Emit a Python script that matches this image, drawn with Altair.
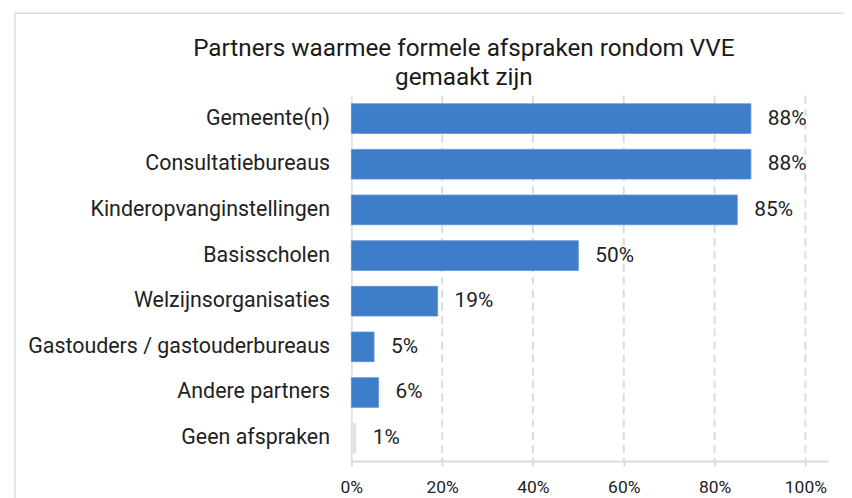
import altair as alt
import pandas as pd

categories = [
    "Gemeente(n)\u00a0",
    "Consultatiebureaus",
    "Kinderopvanginstellingen",
    "Basisscholen\u00a0",
    "Welzijnsorganisaties",
    "Gastouders / gastouderbureaus",
    "Andere partners",
    "Geen afspraken",
]
values = [0.88, 0.88, 0.85, 0.50, 0.19, 0.05, 0.06, 0.01]
tick_values = [0, 0.2, 0.4, 0.6, 0.8, 1.0]
title_lines = ["Partners waarmee formele afspraken rondom VVE", "gemaakt zijn"]

df = pd.DataFrame({"partner": categories, "aandeel": values})

FONT = "Roboto"
GRID = "#dcdcdc"
XDOM = [0, 1.05]

x_enc = alt.X(
    "aandeel:Q",
    scale=alt.Scale(domain=XDOM, nice=False, zero=True),
    axis=alt.Axis(
        values=tick_values,
        format=".0%",
        title=None,
        grid=False,
        domainColor=GRID,
        domainWidth=2,
        tickColor=GRID,
        tickWidth=2,
        tickSize=5,
        labelPadding=13,
        labelFlush=False,
        labelFont=FONT,
        labelFontSize=17.5,
        labelColor="#222222",
    ),
)
y_enc = alt.Y(
    "partner:N",
    sort=categories,
    scale=alt.Scale(paddingInner=0.35, paddingOuter=0.175),
    axis=alt.Axis(
        title=None,
        ticks=False,
        domainColor="#e4e4e4",
        domainWidth=2,
        labelPadding=22,
        labelFont=FONT,
        labelFontSize=21.5,
        labelColor="#222222",
        labelLimit=400,
    ),
)

base = alt.Chart(df)

grid = alt.Chart(pd.DataFrame({"t": tick_values[1:]})).mark_rule(
    color=GRID, strokeWidth=2, strokeDash=[8, 5]
).encode(x=alt.X("t:Q", scale=alt.Scale(domain=XDOM, nice=False)))

bars = base.mark_bar(strokeWidth=0.8).encode(
    x=x_enc,
    y=y_enc,
    color=alt.condition(
        alt.datum.partner == "Geen afspraken",
        alt.value("#e2e2e2"),
        alt.value("#3e7dc8"),
    ),
    stroke=alt.condition(
        alt.datum.partner == "Geen afspraken",
        alt.value("#e2e2e2"),
        alt.value("#5f93d4"),
    ),
)

labels = base.mark_text(
    align="left", baseline="middle", dx=17, font=FONT, fontSize=21, color="#222222"
).encode(
    x="aandeel:Q",
    y=alt.Y("partner:N", sort=categories),
    text=alt.Text("aandeel:Q", format=".0%"),
)

frame = alt.Chart(alt.Data(values=[{"f": 1}])).mark_rect(
    filled=False, stroke="#dedede", strokeWidth=1.5
).encode(
    x=alt.value(-338), x2=alt.value(540), y=alt.value(-83), y2=alt.value(460)
)

title = alt.Chart(alt.Data(values=[{"f": 1}])).mark_text(
    text=title_lines,
    align="center",
    baseline="alphabetic",
    lineHeight=29,
    font=FONT,
    fontSize=24.4,
    color="#1a1a1a",
).encode(x=alt.value(113), y=alt.value(-40))

chart = (
    alt.layer(frame, grid, bars, labels, title)
    .properties(
        width=479,
        height=367,
        autosize=alt.AutoSizeParams(type="none"),
        padding={"left": 345, "top": 87, "right": 16, "bottom": 36},
    )
    .configure_view(stroke=None)
)

chart.save("out.html", embed_options={"renderer": "svg", "actions": False})
